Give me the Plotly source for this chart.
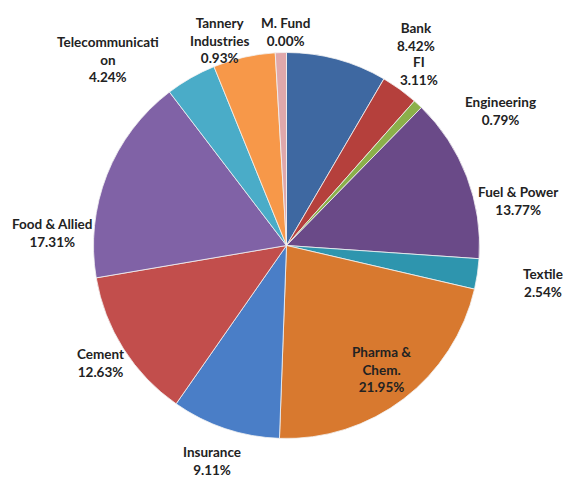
import plotly.graph_objects as go

sectors = ["Bank", "FI", "Engineering", "Fuel & Power", "Textile", "Pharma & Chem.",
           "Insurance", "Cement", "Food & Allied", "Telecommunication",
           "Tannery Industries", "M. Fund"]
# slice sizes as drawn
values = [8.42, 3.11, 0.79, 13.77, 2.54, 21.95, 9.11, 12.63, 17.31, 4.24, 5.20, 0.93]
# label texts as printed on the chart
label_names = ["Bank", "FI", "Engineering", "Fuel & Power", "Textile", "Pharma &<br>Chem.",
               "Insurance", "Cement", "Food & Allied", "Telecommunicati<br>on",
               "Tannery<br>Industries", "M. Fund"]
label_pcts = ["8.42%", "3.11%", "0.79%", "13.77%", "2.54%", "21.95%",
              "9.11%", "12.63%", "17.31%", "4.24%", "0.93%", "0.00%"]
colors = ["#3E68A1", "#B5403C", "#8BB04A", "#6A4A88", "#2E95AE", "#D8792F",
          "#4A7EC7", "#C24E4C", "#8062A6", "#4AACC8", "#F79849", "#E0A8AB"]

W, H = 563, 478
# label block centres in pixels (layout only)
label_pos = [(416, 37), (419, 71), (500, 111), (518, 201), (543, 283), (381, 369),
             (212, 461), (100, 363), (52, 233), (108, 59), (219, 40), (285, 32)]

fig = go.Figure(go.Pie(
    labels=sectors,
    values=values,
    textinfo="none",
    sort=False,
    direction="clockwise",
    rotation=0,
    marker=dict(colors=colors, line=dict(color="#F2F2F2", width=0.8)),
    showlegend=False,
    domain=dict(x=[(286.5 - 193) / W, (286.5 + 193) / W],
                y=[1 - 438.5 / H, 1 - 52.5 / H]),
    hoverinfo="label+percent",
))

annotations = []
for name, pct, (px, py) in zip(label_names, label_pcts, label_pos):
    annotations.append(dict(
        text=f"{name}<br>{pct}",
        x=px / W, y=1 - py / H, xref="paper", yref="paper",
        xanchor="center", yanchor="middle", showarrow=False, align="center",
        font=dict(family="Lato", size=13.5, color="#222222", weight="bold"),
    ))

fig.update_layout(
    width=W, height=H,
    margin=dict(l=0, r=0, t=0, b=0),
    paper_bgcolor="white",
    plot_bgcolor="white",
    annotations=annotations,
)

fig.write_html("out.html",
               config={"displayModeBar": False},
               post_script="document.body.style.margin='0';document.body.style.overflow='hidden';")
